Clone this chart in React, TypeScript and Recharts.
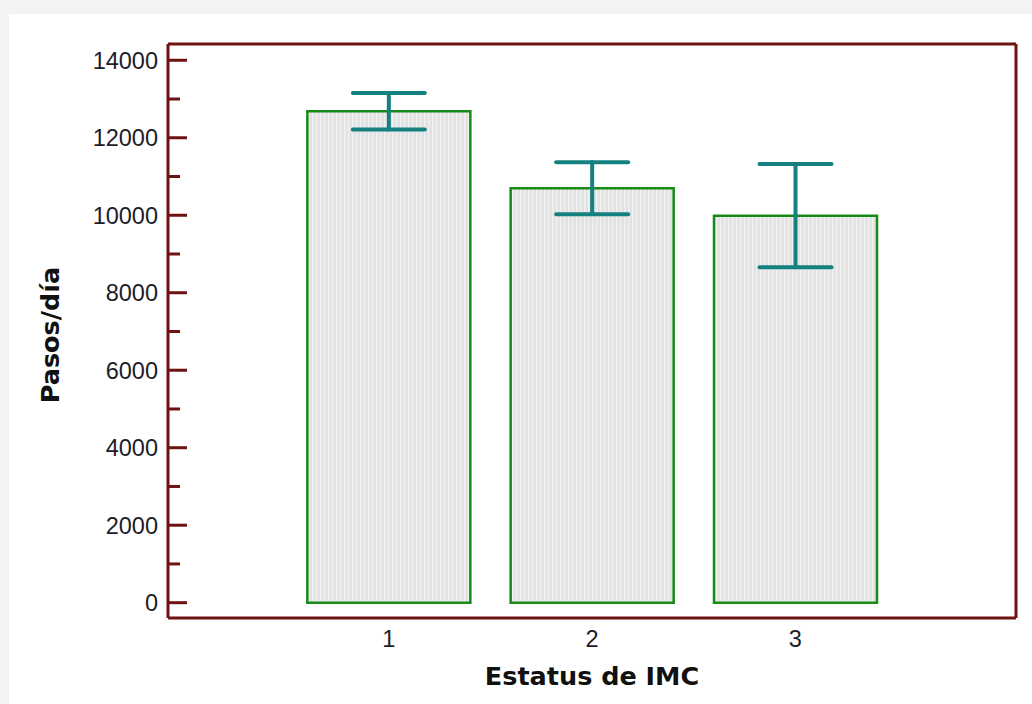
import { BarChart, Bar, XAxis, YAxis, ErrorBar, Label } from "recharts";

// IMC status groups and mean steps/day with their error (± half-width)
const categories = ["1", "2", "3"];
const meanSteps = [12685, 10697, 9990];
const errSteps = [472, 668, 1330];
const yTicks = [0, 1000, 2000, 3000, 4000, 5000, 6000, 7000, 8000, 9000, 10000, 11000, 12000, 13000, 14000];

const data = categories.map((c, i) => ({
  imc: c,
  pasos: meanSteps[i],
  err: errSteps[i],
}));

const FRAME = "#6d1111";
const TEAL = "#14807f";

const YTick = (props: any) => {
  const { x, y, payload } = props;
  const axisX = x + 10;
  const major = payload.value % 2000 === 0;
  return (
    <g>
      <line x1={axisX} y1={y} x2={axisX + (major ? 19 : 12)} y2={y} stroke={FRAME} strokeWidth={3} />
      {major && (
        <text
          x={x}
          y={y}
          dy="0.36em"
          textAnchor="end"
          fontFamily="'Liberation Sans', Arial, sans-serif"
          fontSize={23.5}
          fill="#1c1c28"
        >
          {payload.value}
        </text>
      )}
    </g>
  );
};

const XTick = (props: any) => {
  const { x, y, payload } = props;
  return (
    <text
      x={x}
      y={y}
      dy="0.72em"
      textAnchor="middle"
      fontFamily="'Liberation Sans', Arial, sans-serif"
      fontSize={23.5}
      fill="#1c1c28"
    >
      {payload.value}
    </text>
  );
};

export default function App() {
  return (
    <div style={{ position: "absolute", left: 0, top: 0, width: 1032, height: 704, background: "#f3f3f3" }}>
      <div style={{ position: "absolute", left: 9, top: 14, width: 1023, height: 690, background: "#fff" }} />
      <div style={{ position: "absolute", left: 0, top: 0 }}>
        <BarChart
          width={1032}
          height={704}
          data={data}
          margin={{ top: 43, right: 15, left: 0, bottom: 0 }}
          barCategoryGap="10%"
        >
          <defs>
            <pattern id="stipple" width="4" height="4" patternUnits="userSpaceOnUse">
              <rect width="4" height="4" fill="#e2e2e2" />
              <rect width="1.5" height="4" fill="#f0f0f0" />
            </pattern>
          </defs>
          <XAxis
            dataKey="imc"
            height={86}
            padding={{ left: 119, right: 119 }}
            axisLine={{ stroke: FRAME, strokeWidth: 3 }}
            tickLine={false}
            tickSize={0}
            tickMargin={12}
            tick={<XTick />}
          >
            <Label
              content={(p: any) => {
                const vb = p.viewBox;
                return (
                  <text
                    x={vb.x + vb.width / 2}
                    y={685}
                    textAnchor="middle"
                    fontFamily="'DejaVu Sans', Verdana, sans-serif"
                    fontWeight="bold"
                    fontSize={25.5}
                    fill="#111"
                  >
                    Estatus de IMC
                  </text>
                );
              }}
            />
          </XAxis>
          <XAxis xAxisId="top" dataKey="imc" orientation="top" height={1} tick={false} tickLine={false} axisLine={{ stroke: FRAME, strokeWidth: 3 }} />
          <YAxis
            type="number"
            domain={[-395, 14420]}
            ticks={yTicks}
            interval={0}
            width={168}
            axisLine={{ stroke: FRAME, strokeWidth: 3 }}
            tickLine={false}
            tickSize={0}
            tickMargin={10}
            tick={<YTick />}
            allowDataOverflow
          >
            <Label
              content={(p: any) => {
                const vb = p.viewBox;
                const cx = vb.x + 50;
                const cy = vb.y + vb.height / 2 + 4;
                return (
                  <text
                    x={cx}
                    y={cy}
                    transform={`rotate(-90 ${cx} ${cy})`}
                    textAnchor="middle"
                    dominantBaseline="central"
                    fontFamily="'DejaVu Sans', Verdana, sans-serif"
                    fontWeight="bold"
                    fontSize={25.5}
                    fill="#111"
                  >
                    Pasos/día
                  </text>
                );
              }}
            />
          </YAxis>
          <YAxis yAxisId="right" orientation="right" width={1} tick={false} tickLine={false} domain={[0, 1]} axisLine={{ stroke: FRAME, strokeWidth: 3 }} />
          <Bar dataKey="pasos" fill="url(#stipple)" stroke="#178a17" strokeWidth={2.5} isAnimationActive={false}>
            <ErrorBar dataKey="err" direction="y" width={36} stroke={TEAL} strokeWidth={4} strokeLinecap="round" isAnimationActive={false} />
          </Bar>
        </BarChart>
      </div>
    </div>
  );
}
